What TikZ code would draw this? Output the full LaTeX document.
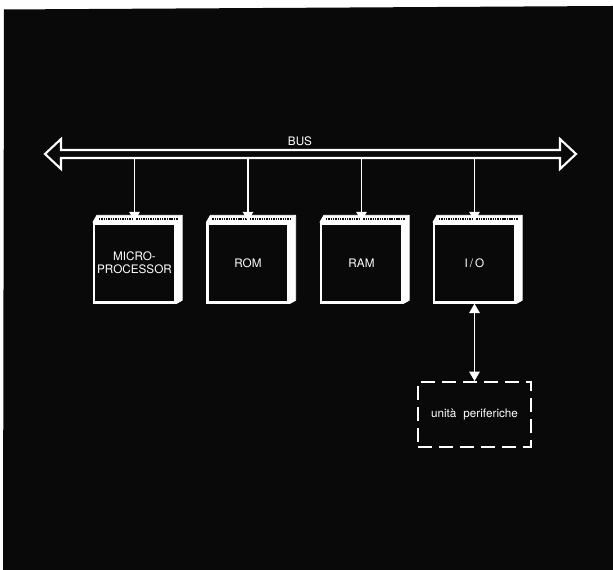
\documentclass[tikz,border=0pt]{standalone}
\usepackage{xcolor}
\usepackage{tikz}
\usetikzlibrary{arrows.meta}
\usepackage{fontspec}
\setmainfont{TeX Gyre Heros}
\definecolor{scanblack}{RGB}{10,9,9}

\begin{document}
\begin{tikzpicture}[
  chip/.style={draw=white, fill=scanblack, text=white, line width=2pt,
    minimum width=2.43cm, minimum height=2.37cm, align=center, inner sep=0pt,
    font=\fontsize{10}{11.5}\selectfont},
  periph/.style={draw=white, line width=1.7pt, dash pattern=on 12pt off 6pt,
    minimum width=3.39cm, minimum height=1.95cm, text=white,
    font=\fontsize{10}{12}\selectfont},
  wire/.style={white, line width=1.1pt, -{Triangle[width=9pt,length=8pt]}}
]
% background
\fill[white] (0,0) rectangle (18.39,17.1);
\fill[scanblack] (0.12,16.815) -- (18.39,16.92) -- (18.39,0) -- (0.09,0) -- cycle;

% bus
\draw[white, line width=1.8pt] (1.35,12.48) -- (1.83,12.93) -- (1.83,12.6) -- (16.8,12.6) -- (16.8,12.93) -- (17.28,12.48) -- (16.8,12.03) -- (16.8,12.36) -- (1.83,12.36) -- (1.83,12.03) -- cycle;
\coordinate (busbottom) at (0,12.36);
\node[text=white, font=\fontsize{10}{12}\selectfont] (buslabel) at (9.0,12.87) {BUS};

% blocks
\node[chip] (mp) at (4.035,9.21) {MICRO-\\PROCESSOR};
\node[chip] (rom) at (7.44,9.21) {ROM};
\node[chip] (ram) at (10.845,9.21) {RAM};
\node[chip] (io) at (14.235,9.21) {I\,/\,O};

\foreach \n in {mp,rom,ram,io} {
  \filldraw[white, line width=0.6pt, line join=round] (\n.north west) -- ++(0.12,0.21) -- ([shift={(0.18,0.21)}]\n.north east) -- (\n.north east) -- cycle;
  \filldraw[white, line width=0.6pt, line join=round] (\n.north east) -- ([shift={(0.18,0.21)}]\n.north east) -- ([shift={(0.18,0.1)}]\n.south east) -- (\n.south east) -- cycle;
  \draw[scanblack, line width=1.6pt, dash pattern=on 1.2pt off 0.8pt] ([shift={(0.18,0.1)}]\n.north west) -- ([shift={(0.04,0.1)}]\n.north east);
  \draw[wire] (\n.north |- busbottom) -- ([yshift=1pt]\n.north);
}

% peripherals
\node[periph] (per) at (14.235,4.665) {unità\hspace{0.6em}periferiche};
\draw[white, line width=1.1pt, {Triangle[width=9pt,length=8pt]}-{Triangle[width=9pt,length=8pt]}] (io.south) -- (per.north);
\end{tikzpicture}
\end{document}
